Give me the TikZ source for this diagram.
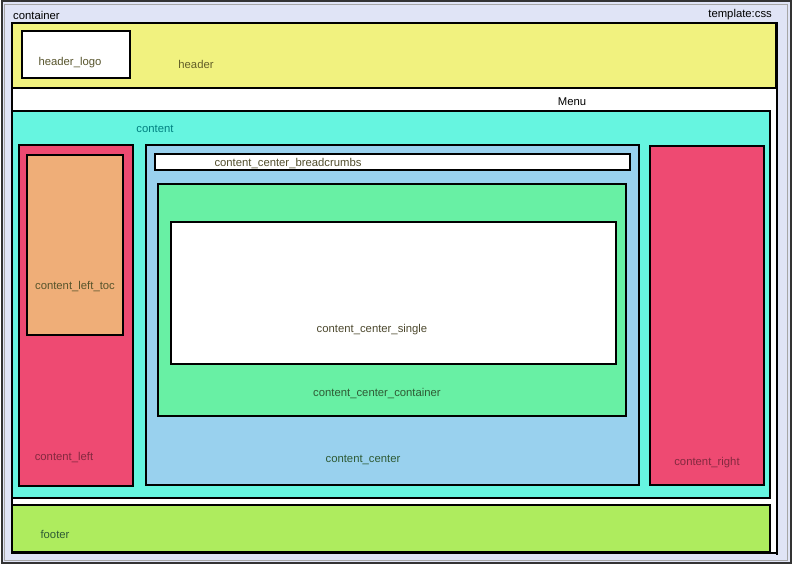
\documentclass[tikz,border=0pt]{standalone}
\usepackage{fontspec}
\setmainfont{Liberation Sans}
\definecolor{lavender}{HTML}{E0E4F6}
\definecolor{headyellow}{HTML}{F1F27F}
\definecolor{contcyan}{HTML}{66F5E0}
\definecolor{sidered}{HTML}{EE4A72}
\definecolor{tocorange}{HTML}{EFAE78}
\definecolor{centerblue}{HTML}{99D1EE}
\definecolor{innergreen}{HTML}{68F0A4}
\definecolor{footgreen}{HTML}{AEEC5E}
\definecolor{darkleaf}{HTML}{2E5A34}
\tikzset{x=1pt, y=-1pt,
    pane/.style={draw=black, line width=2.4pt},
    tag/.style={inner sep=0pt, yshift=-1.5pt, font=\fontsize{11.3}{13}\selectfont},
    }

\begin{document}
\begin{tikzpicture}
\useasboundingbox (0,0) rectangle (792,564);
% container
\draw[fill=lavender, draw=black!80, line width=2pt] (1.5,1.5) rectangle (790.5,562.5);
\draw[draw=black!35, line width=0.8pt] (4,4) rectangle (787,560);
\draw[pane, fill=white] (12,23) rectangle (777,553);
\node[tag, anchor=west] (container) at (13,14) {container};
\node[tag, anchor=east] (template) at (772,13) {template:css};
% header
\draw[pane, fill=headyellow] (12,23) rectangle (776,88);
\draw[pane, fill=white] (22,31) rectangle (130,78);
\node[tag, text=black!50!olive] (headerlogo) at (70,61) {header\_logo};
\node[tag, text=black!40!olive] (header) at (196,63) {header};
% menu
\draw[pane] (12,88) -- (777,88) -- (777,555);
\node[tag] (menu) at (572,100) {Menu};
% content
\draw[pane, fill=contcyan] (12,111) rectangle (770,498);
\node[tag, text=teal] (content) at (155,127) {content};
\draw[pane, fill=sidered] (19,145) rectangle (133,486);
\draw[pane, fill=tocorange] (27,155) rectangle (123,335);
\node[tag, text=black!50!olive] (lefttoc) at (75,285) {content\_left\_toc};
\node[tag, text=black!45!sidered] (left) at (64,456) {content\_left};
\draw[pane, fill=centerblue] (146,145) rectangle (639,485);
\draw[pane, fill=white] (155,154) rectangle (630,170);
\node[tag, text=black!55!olive] (crumbs) at (288,162) {content\_center\_breadcrumbs};
\draw[pane, fill=innergreen] (158,184) rectangle (626,416);
\draw[pane, fill=white] (171,222) rectangle (616,364);
\node[tag, text=black!60!olive] (single) at (372,328) {content\_center\_single};
\node[tag, text=darkleaf] (centercont) at (377,392) {content\_center\_container};
\node[tag, text=darkleaf] (center) at (363,458) {content\_center};
\draw[pane, fill=sidered] (650,146) rectangle (764,485);
\node[tag, text=black!45!sidered] (right) at (707,461) {content\_right};
% footer
\draw[pane, fill=footgreen] (12,505) rectangle (770,552);
\node[tag, text=darkleaf] (footer) at (55,533) {footer};
\end{tikzpicture}
\end{document}
